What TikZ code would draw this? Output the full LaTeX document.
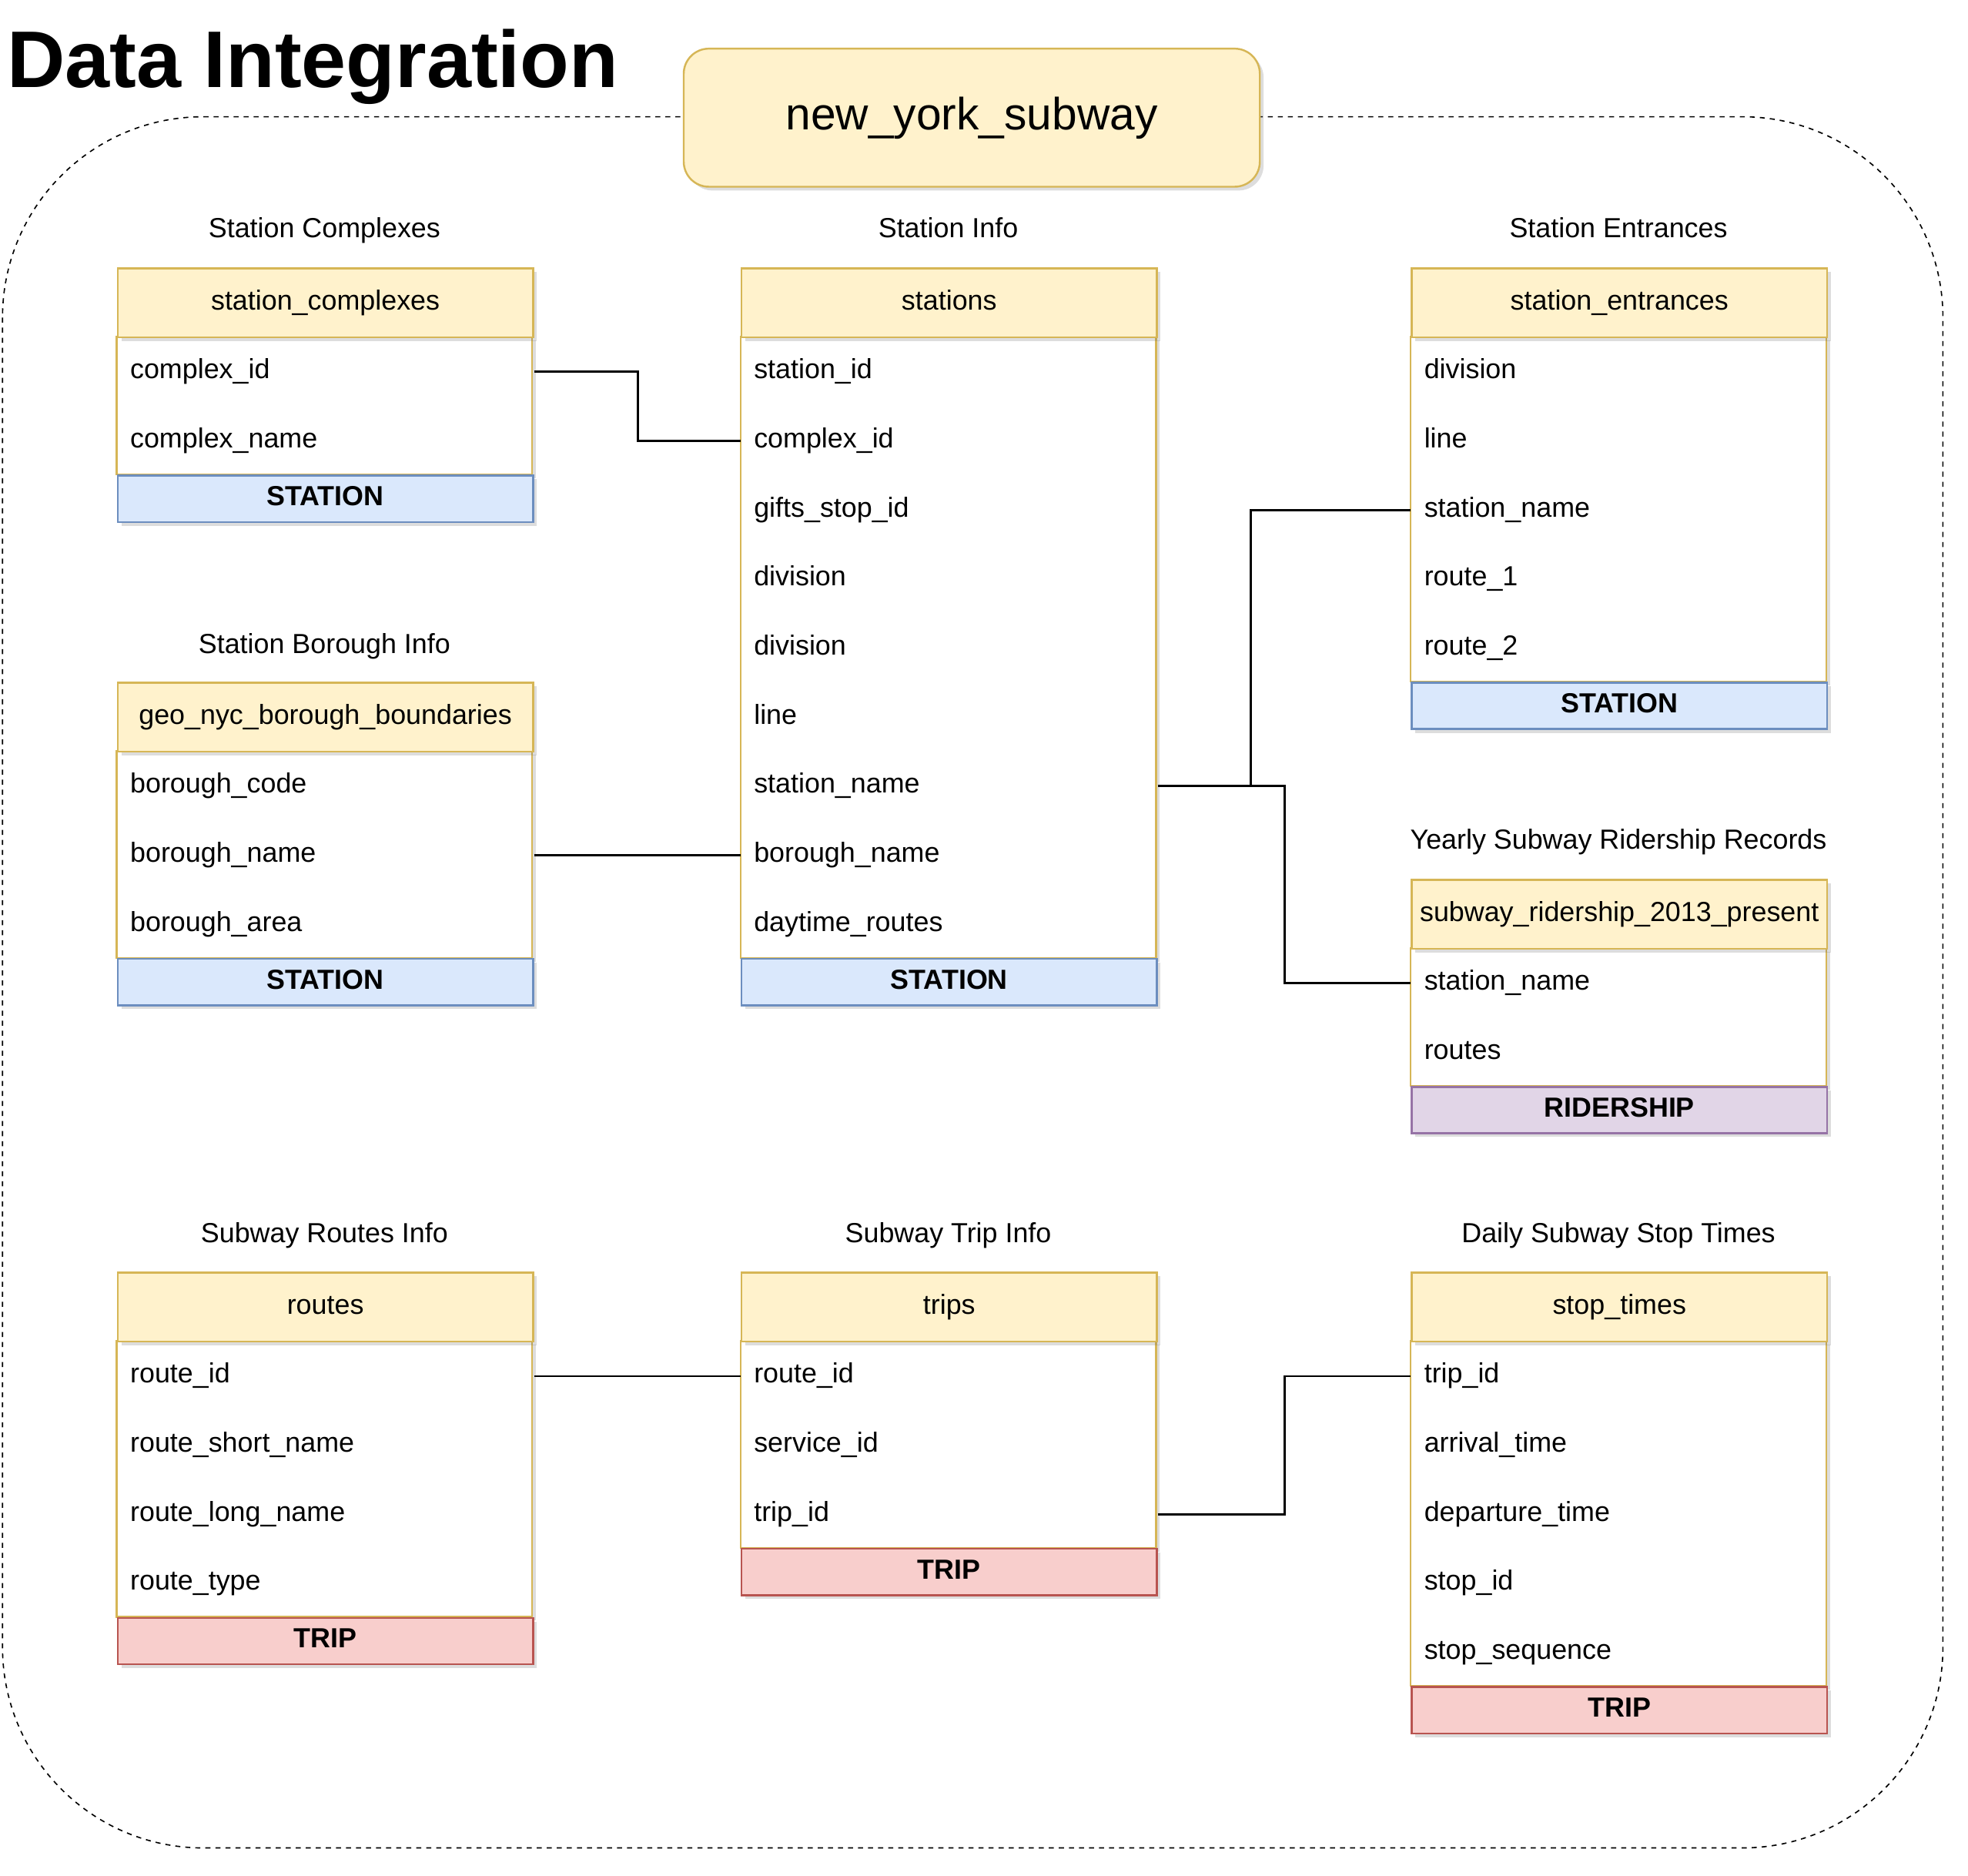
\documentclass[tikz,border=0pt]{standalone}
\usepackage{fontspec}
\setmainfont{Liberation Sans}
\usetikzlibrary{shadows}
\definecolor{hdfill}{HTML}{FFF2CC}
\definecolor{hddraw}{HTML}{D6B656}
\definecolor{stfill}{HTML}{DAE8FC}
\definecolor{stdraw}{HTML}{6C8EBF}
\definecolor{rdfill}{HTML}{E1D5E7}
\definecolor{rddraw}{HTML}{9673A6}
\definecolor{trfill}{HTML}{F8CECC}
\definecolor{trdraw}{HTML}{B85450}
\newcommand{\fldfont}{\fontsize{11}{13}\selectfont}
\tikzset{every picture/.style={line width=0.75pt}}
\tikzset{
  shdw/.style={drop shadow={shadow xshift=1.5pt,shadow yshift=-1.5pt,opacity=0.22,fill=black!60}},
  tblbody/.style={draw=hddraw,fill=white,shdw},
  tblhead/.style={anchor=north west,draw=hddraw,fill=hdfill,shdw,minimum width=165.5pt,minimum height=27.5pt,inner sep=0pt,font=\fldfont,text height=8pt,text depth=2.5pt},
  tblrow/.style={anchor=north west,minimum height=27.5pt,text width=155.5pt,inner xsep=5pt,inner ysep=0pt,align=left,font=\fldfont,text height=8pt,text depth=2.5pt},
  tblfoot/.style={anchor=north west,shdw,minimum width=165.5pt,minimum height=18.5pt,inner sep=0pt,font=\fldfont\bfseries,text height=8pt,text depth=2.5pt},
  stfoot/.style={tblfoot,draw=stdraw,fill=stfill},
  rdfoot/.style={tblfoot,draw=rddraw,fill=rdfill},
  trfoot/.style={tblfoot,draw=trdraw,fill=trfill},
  tbltitle/.style={inner sep=0pt,font=\fldfont,text height=8pt,text depth=2.5pt},
  relline/.style={draw=black,line width=0.9pt}
}
\begin{document}
\begin{tikzpicture}[x=0.5pt,y=0.5pt,yscale=-1,xscale=1]
\useasboundingbox (0,0) rectangle (1568,1494);

%Shape: Rounded Rect [id:outer]
\draw [line width=0.5pt,dash pattern=on 2pt off 2pt,rounded corners=80pt] (2,93) rectangle (1548,1472);

% Text Node
\node (title) [anchor=west,inner sep=0pt,font=\fontsize{32}{36}\selectfont\bfseries] at (5,53) {Data Integration};
%Shape: Rounded Rect [id:dbname]
\node (db) [anchor=north west,draw=hddraw,fill=hdfill,shdw,rounded corners=10pt,minimum width=229.5pt,minimum height=55pt,inner sep=0pt,font=\fontsize{18}{22}\selectfont] at (544,38) {new\_york\_subway};

%Table: station_complexes
\node (sc-title) [tbltitle] at (258.5,184) {Station Complexes};
\draw [tblbody] (93,268) rectangle (424,378);
\node (sc) [tblhead] at (93,213) {station\_complexes};
\node (sc-complex-id) [tblrow] at (93,268) {complex\_id};
\node (sc-complex-name) [tblrow] at (93,323) {complex\_name};
\node (sc-foot) [stfoot] at (93,378) {STATION};

%Table: stations
\node (st-title) [tbltitle] at (755.5,184) {Station Info};
\draw [tblbody] (590,268) rectangle (921,763);
\node (st) [tblhead] at (590,213) {stations};
\node (st-station-id) [tblrow] at (590,268) {station\_id};
\node (st-complex-id) [tblrow] at (590,323) {complex\_id};
\node (st-gifts-stop-id) [tblrow] at (590,378) {gifts\_stop\_id};
\node (st-division-a) [tblrow] at (590,433) {division};
\node (st-division-b) [tblrow] at (590,488) {division};
\node (st-line) [tblrow] at (590,543) {line};
\node (st-station-name) [tblrow] at (590,598) {station\_name};
\node (st-borough-name) [tblrow] at (590,653) {borough\_name};
\node (st-daytime-routes) [tblrow] at (590,708) {daytime\_routes};
\node (st-foot) [stfoot] at (590,763) {STATION};

%Table: station_entrances
\node (se-title) [tbltitle] at (1289.5,184) {Station Entrances};
\draw [tblbody] (1124,268) rectangle (1455,543);
\node (se) [tblhead] at (1124,213) {station\_entrances};
\node (se-division) [tblrow] at (1124,268) {division};
\node (se-line) [tblrow] at (1124,323) {line};
\node (se-station-name) [tblrow] at (1124,378) {station\_name};
\node (se-route-1) [tblrow] at (1124,433) {route\_1};
\node (se-route-2) [tblrow] at (1124,488) {route\_2};
\node (se-foot) [stfoot] at (1124,543) {STATION};

%Table: geo_nyc_borough_boundaries
\node (geo-title) [tbltitle] at (258.5,515) {Station Borough Info};
\draw [tblbody] (93,598) rectangle (424,763);
\node (geo) [tblhead] at (93,543) {geo\_nyc\_borough\_boundaries};
\node (geo-borough-code) [tblrow] at (93,598) {borough\_code};
\node (geo-borough-name) [tblrow] at (93,653) {borough\_name};
\node (geo-borough-area) [tblrow] at (93,708) {borough\_area};
\node (geo-foot) [stfoot] at (93,763) {STATION};

%Table: subway_ridership_2013_present
\node (rd-title) [tbltitle] at (1289.5,671) {Yearly Subway Ridership Records};
\draw [tblbody] (1124,755) rectangle (1455,865);
\node (rd) [tblhead] at (1124,700) {subway\_ridership\_2013\_present};
\node (rd-station-name) [tblrow] at (1124,755) {station\_name};
\node (rd-routes) [tblrow] at (1124,810) {routes};
\node (rd-foot) [rdfoot] at (1124,865) {RIDERSHIP};

%Table: routes
\node (rt-title) [tbltitle] at (258.5,984) {Subway Routes Info};
\draw [tblbody] (93,1068) rectangle (424,1288);
\node (rt) [tblhead] at (93,1013) {routes};
\node (rt-route-id) [tblrow] at (93,1068) {route\_id};
\node (rt-route-short-name) [tblrow] at (93,1123) {route\_short\_name};
\node (rt-route-long-name) [tblrow] at (93,1178) {route\_long\_name};
\node (rt-route-type) [tblrow] at (93,1233) {route\_type};
\node (rt-foot) [trfoot] at (93,1288) {TRIP};

%Table: trips
\node (tr-title) [tbltitle] at (755.5,984) {Subway Trip Info};
\draw [tblbody] (590,1068) rectangle (921,1233);
\node (tr) [tblhead] at (590,1013) {trips};
\node (tr-route-id) [tblrow] at (590,1068) {route\_id};
\node (tr-service-id) [tblrow] at (590,1123) {service\_id};
\node (tr-trip-id) [tblrow] at (590,1178) {trip\_id};
\node (tr-foot) [trfoot] at (590,1233) {TRIP};

%Table: stop_times
\node (stt-title) [tbltitle] at (1289.5,984) {Daily Subway Stop Times};
\draw [tblbody] (1124,1068) rectangle (1455,1343);
\node (stt) [tblhead] at (1124,1013) {stop\_times};
\node (stt-trip-id) [tblrow] at (1124,1068) {trip\_id};
\node (stt-arrival-time) [tblrow] at (1124,1123) {arrival\_time};
\node (stt-departure-time) [tblrow] at (1124,1178) {departure\_time};
\node (stt-stop-id) [tblrow] at (1124,1233) {stop\_id};
\node (stt-stop-sequence) [tblrow] at (1124,1288) {stop\_sequence};
\node (stt-foot) [trfoot] at (1124,1343) {TRIP};

%Straight Lines: relations
\draw [relline] (sc-complex-id.east) -- ++(83,0) |- (st-complex-id.west);
\draw [relline] (geo-borough-name.east) -- (st-borough-name.west);
\draw [relline] (st-station-name.east) -- ++(74,0) |- (se-station-name.west);
\draw [relline] (st-station-name.east) -- ++(101,0) |- (rd-station-name.west);
\draw [relline] (rt-route-id.east) -- (tr-route-id.west);
\draw [relline] (tr-trip-id.east) -- ++(101,0) |- (stt-trip-id.west);

\end{tikzpicture}
\end{document}
